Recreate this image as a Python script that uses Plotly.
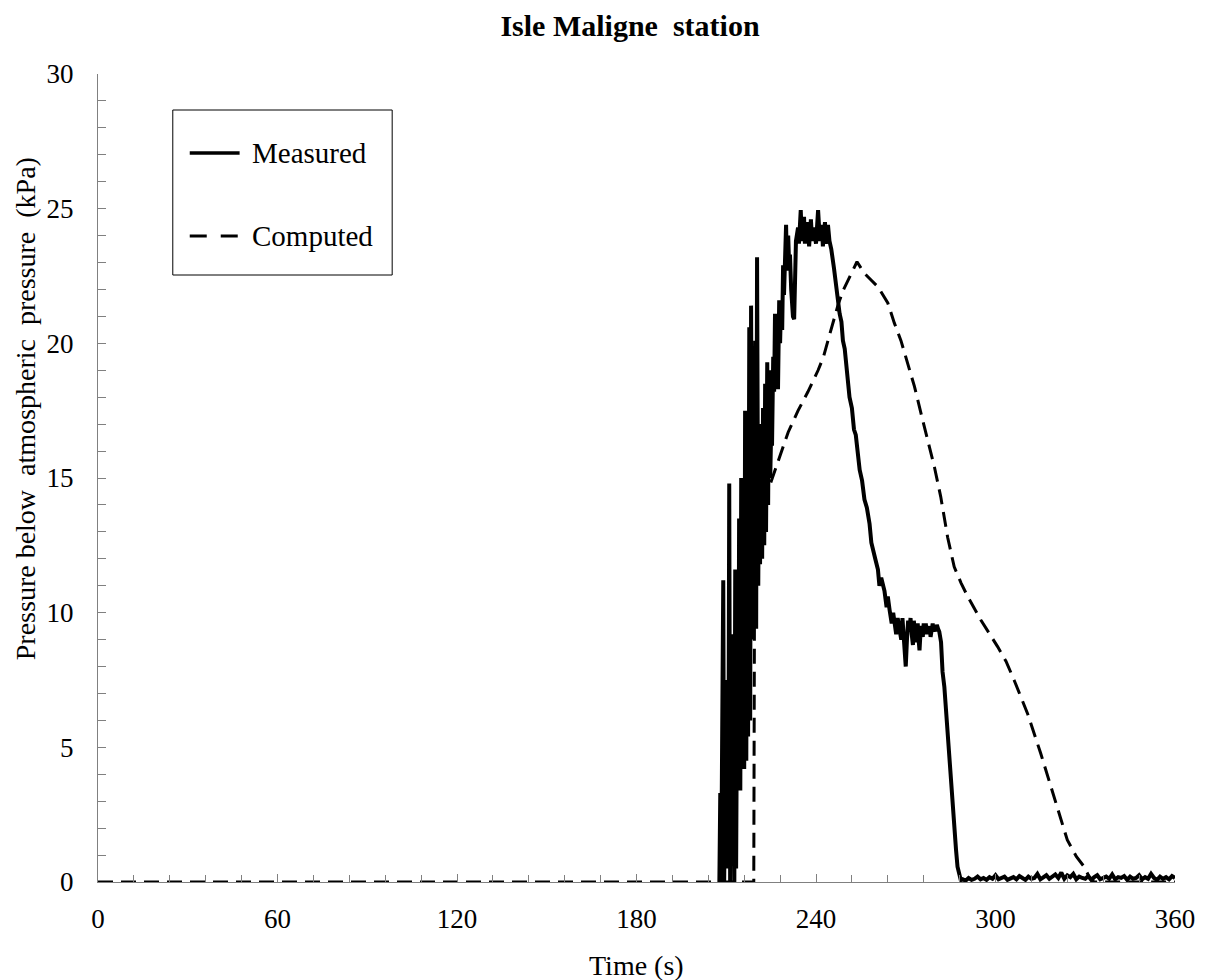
import plotly.graph_objects as go

# ---------------- data ----------------
measured_time = [
    207.7, 208.0, 208.3, 208.7, 209.0, 209.3, 209.7, 210.0, 210.3, 210.7,
    211.0, 211.3, 211.7, 212.0, 212.3, 212.7, 213.0, 213.3, 213.7, 214.0,
    214.3, 214.7, 215.0, 215.3, 215.7, 216.0, 216.3, 216.7, 217.0, 217.3,
    217.7, 218.0, 218.3, 218.7, 219.0, 219.3, 219.7, 220.0, 220.3, 220.7,
    221.0, 221.3, 221.7, 222.0, 222.3, 222.7, 223.0, 223.3, 223.7, 224.0,
    224.3, 224.7, 225.0, 225.3, 225.7, 226.0, 226.3, 226.7, 227.0, 227.3,
    227.7, 228.0, 228.3, 228.7, 229.0, 229.3, 229.7, 230.0, 230.3, 230.7,
    231.0, 231.3, 231.7, 232.3, 232.7, 233.0, 233.3, 234.0, 234.3, 234.9,
    235.3, 236.0, 236.3, 236.7, 237.3, 237.7, 238.3, 238.7, 239.3, 240.0,
    240.7, 241.3, 242.0, 242.3, 243.0, 243.3, 244.0, 244.5, 245.1,
    246.0, 246.8, 247.4, 247.9, 248.5, 249.0, 249.6, 250.1, 250.7, 251.2,
    252.0, 252.7, 253.3, 254.0, 254.6, 255.4, 256.2, 257.0, 257.9, 258.5,
    259.0, 259.8, 260.7, 261.2, 261.8, 262.9, 263.6, 264.0, 264.6, 265.3,
    265.8, 266.2, 266.8, 267.3, 267.9, 268.5, 268.9, 269.3, 269.7, 270.0,
    270.4, 270.8, 271.2, 271.6, 272.0, 272.4, 272.7, 273.0, 273.3, 273.7,
    274.0, 274.3, 274.6, 275.0, 275.3, 275.7, 276.0, 276.4, 276.7, 277.0,
    277.3, 277.7, 278.0, 278.3, 278.6, 279.0, 279.3, 279.7, 280.0, 280.4,
    280.8, 281.2, 281.8, 282.3, 282.9, 283.4, 284.0, 284.6, 285.1, 285.7,
    286.2, 286.8, 287.3, 287.8, 288.4,
    289, 290, 291, 292, 293, 294, 295, 296, 297, 298,
    299, 300, 301, 302, 303, 304, 305, 306, 307, 308,
    309, 310, 311, 312, 313, 314, 315, 316, 317, 318,
    319, 320, 321, 322, 323, 324, 325, 326, 327, 328,
    329, 330, 331, 332, 333, 334, 335, 336, 337, 338,
    339, 340, 341, 342, 343, 344, 345, 346, 347, 348,
    349, 350, 351, 352, 353, 354, 355, 356, 357, 358,
    359, 360,
]
measured_pressure = [
    0, 3.3, 0, 6.0, 11.2, 0, 4.5, 0.5, 7.5, 2.0,
    14.8, 0, 9.2, 1.0, 8.0, 0, 11.6, 0.5, 9.0, 3.4,
    13.5, 3.4, 15.0, 5.0, 13.0, 4.2, 17.5, 4.5, 16.0, 5.4,
    20.6, 6.0, 21.4, 9.0, 18.5, 9.4, 20.1, 9.4, 23.2, 11.0,
    16.6, 11.8, 17.0, 12.0, 17.6, 12.5, 18.5, 13.0, 19.3, 14.0,
    19.0, 15.0, 16.7, 16.2, 19.5, 18.2, 21.1, 18.5, 21.0, 18.3,
    21.6, 20.0, 21.5, 20.5, 22.9, 21.8, 23.5, 24.4, 22.7, 24.0,
    23.0, 23.3, 22.0, 21.0, 20.9, 22.5, 23.8, 24.3, 23.7, 24.95,
    23.8, 24.7, 23.7, 24.2, 24.5, 23.6, 24.6, 23.8, 24.3, 23.7,
    24.95, 23.8, 24.4, 23.6, 24.5, 23.7, 24.4, 23.8, 23.5,
    22.8, 22.0, 21.7, 21.1, 20.8, 20.1, 19.8, 19.1, 18.7, 18.0,
    17.6, 16.8, 16.6, 15.8, 15.3, 14.9, 14.2, 13.9, 13.3, 12.6,
    12.3, 12.0, 11.6, 11.0, 11.3, 10.8, 10.2, 10.6, 10.1, 9.6,
    10.0, 9.7, 9.2, 9.8, 9.4, 9.0, 9.8, 9.2, 8.5, 8.0,
    9.0, 9.7, 9.3, 9.8, 9.2, 8.8, 9.7, 9.3, 8.9, 9.4,
    9.6, 9.0, 8.6, 9.4, 9.5, 9.1, 9.6, 9.3, 9.6, 9.2,
    9.5, 9.3, 9.5, 9.1, 9.4, 9.6, 9.3, 9.5, 9.3, 9.55,
    9.4, 9.3, 8.9, 7.8, 7.25, 6.4, 5.77, 4.8, 3.9, 2.9,
    2.05, 1.2, 0.57, 0.25, 0.07,
    0.10, 0.05, 0.15, 0.08, 0.12, 0.20, 0.10, 0.15, 0.08, 0.18,
    0.12, 0.25, 0.10, 0.15, 0.20, 0.08, 0.12, 0.18, 0.10, 0.22,
    0.15, 0.08, 0.20, 0.12, 0.15, 0.30, 0.10, 0.18, 0.25, 0.12,
    0.20, 0.28, 0.15, 0.35, 0.12, 0.25, 0.18, 0.30, 0.10, 0.20,
    0.15, 0.12, 0.22, 0.08, 0.18, 0.25, 0.10, 0.15, 0.20, 0.12,
    0.28, 0.10, 0.18, 0.15, 0.22, 0.08, 0.20, 0.12, 0.15, 0.25,
    0.10, 0.18, 0.12, 0.30, 0.15, 0.08, 0.20, 0.12, 0.18, 0.10,
    0.22, 0.15,
]

computed_time = [
    0, 219.2, 219.5, 224.0, 227.3, 230.7, 234.0, 237.3, 240.7, 242.5,
    244.0, 245.5, 247.3, 249.0, 250.7, 252.3, 253.7, 255.0, 256.2, 258.4,
    260.7, 264.0, 266.2, 268.4, 270.7, 272.9, 275.1, 277.3, 279.6, 281.7,
    284.0, 286.2, 288.5, 290.7, 295.1, 300.7, 303.5, 306.2, 310.7, 315.1,
    319.6, 324.0, 327.0, 329.6, 331.5, 333.0, 360.0,
]
computed_pressure = [
    0, 0, 13.1, 14.56, 15.67, 16.7, 17.5, 18.2, 19.0, 19.5,
    20.1, 20.7, 21.4, 21.95, 22.35, 22.75, 23.03, 22.8, 22.6, 22.35,
    22.1, 21.5, 20.75, 20.1, 19.27, 18.4, 17.4, 16.4, 15.4, 14.3,
    12.8, 11.7, 11.1, 10.6, 9.73, 8.74, 8.2, 7.5, 6.26, 4.78,
    3.17, 1.56, 0.95, 0.57, 0.15, 0, 0,
]

x_tick_values = [0, 60, 120, 180, 240, 300, 360]
y_tick_values = [0, 5, 10, 15, 20, 25, 30]
series_names = ["Measured", "Computed"]

# ---------------- figure ----------------
FONT = "Liberation Serif, Times New Roman, serif"
AXIS_GRAY = "#808080"
OFF = 8            # page body margin of the html page
FIG_W, FIG_H = 1207 - OFF, 980 - OFF

fig = go.Figure()
fig.add_trace(go.Scatter(
    x=computed_time, y=computed_pressure, mode="lines", name=series_names[1],
    line=dict(color="black", width=3, dash="15px,8px"), showlegend=False,
))
fig.add_trace(go.Scatter(
    x=measured_time, y=measured_pressure, mode="lines", name=series_names[0],
    line=dict(color="black", width=4), showlegend=False,
))

fig.update_layout(
    width=FIG_W, height=FIG_H,
    margin=dict(l=98 - OFF, r=29, t=74 - OFF, b=98),
    paper_bgcolor="white", plot_bgcolor="white",
    font=dict(family=FONT, size=27, color="black"),
    title=dict(text="Isle Maligne&nbsp; station", x=(630 - OFF) / FIG_W, xanchor="center",
               y=1 - (25 - OFF) / FIG_H, yanchor="middle",
               font=dict(family=FONT, size=30, color="black", weight="bold")),
    showlegend=False,
)
fig.update_xaxes(
    range=[0, 360], tickvals=x_tick_values, ticks="inside", ticklen=8,
    tickcolor=AXIS_GRAY, showline=True, linecolor=AXIS_GRAY, linewidth=1,
    showgrid=False, zeroline=False, ticklabelstandoff=13,
    minor=dict(dtick=12, ticks="inside", ticklen=7, tickcolor=AXIS_GRAY, showgrid=False),
    tickfont=dict(family=FONT, size=27),
)
fig.update_yaxes(
    range=[0, 30], tickvals=y_tick_values, ticks="inside", ticklen=8,
    tickcolor=AXIS_GRAY, showline=True, linecolor=AXIS_GRAY, linewidth=1,
    showgrid=False, zeroline=False, ticklabelstandoff=18,
    minor=dict(dtick=1, ticks="inside", ticklen=8, tickcolor=AXIS_GRAY, showgrid=False),
    tickfont=dict(family=FONT, size=27),
)

def px_x(p):
    return (p - 98) / 1080

def px_y(p):
    return (882 - p) / 808

# axis titles
fig.add_annotation(text="Time (s)", xref="paper", yref="paper", x=0.5, y=px_y(965),
                   xanchor="center", yanchor="middle", showarrow=False,
                   font=dict(family=FONT, size=28))
fig.add_annotation(text="Pressure below&nbsp; atmospheric&nbsp; pressure&nbsp; (kPa)",
                   xref="paper", yref="paper", x=px_x(25), y=px_y(409),
                   xanchor="center", yanchor="middle", textangle=-90, showarrow=False,
                   font=dict(family=FONT, size=28))

# legend box
fig.add_shape(type="rect", xref="paper", yref="paper",
              x0=px_x(173), x1=px_x(393), y0=px_y(275), y1=px_y(110),
              line=dict(color="black", width=1), fillcolor="white", layer="above")
fig.add_shape(type="line", xref="paper", yref="paper",
              x0=px_x(190), x1=px_x(240), y0=px_y(153), y1=px_y(153),
              line=dict(color="black", width=3.5), layer="above")
fig.add_shape(type="line", xref="paper", yref="paper",
              x0=px_x(190), x1=px_x(240), y0=px_y(236), y1=px_y(236),
              line=dict(color="black", width=3, dash="17px,14px"), layer="above")
fig.add_annotation(text=series_names[0], xref="paper", yref="paper",
                   x=px_x(250), y=px_y(153), xanchor="left", yanchor="middle",
                   showarrow=False, font=dict(family=FONT, size=29))
fig.add_annotation(text=series_names[1], xref="paper", yref="paper",
                   x=px_x(250), y=px_y(236), xanchor="left", yanchor="middle",
                   showarrow=False, font=dict(family=FONT, size=29))

fig.write_html("out.html")
